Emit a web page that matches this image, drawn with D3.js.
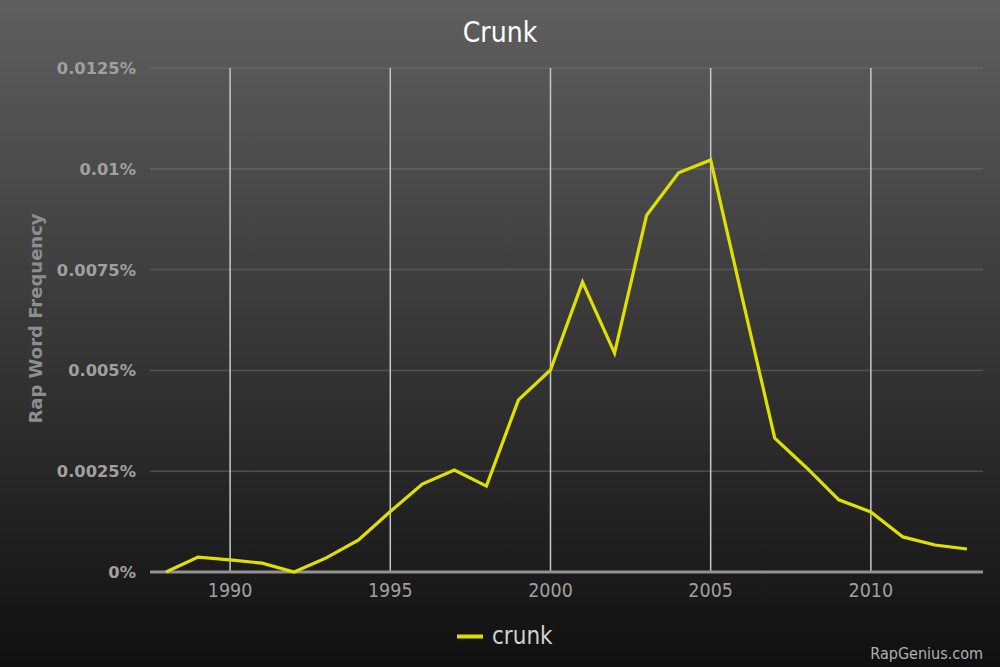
<!DOCTYPE html>
<html>
<head>
<meta charset="utf-8">
<script src="https://cdn.jsdelivr.net/npm/d3@7"></script>
<style>
html,body{margin:0;padding:0;background:#111;}
svg{display:block;}
</style>
</head>
<body>
<svg id="chart" width="1000" height="667"></svg>
<script>
const title = "Crunk";
const seriesName = "crunk";
const years = [1988,1989,1990,1991,1992,1993,1994,1995,1996,1997,1998,1999,2000,2001,2002,2003,2004,2005,2006,2007,2008,2009,2010,2011,2012,2013];
const values = [0,0.00037,0.0003,0.00022,0,0.00035,0.00079,0.0015,0.00218,0.00253,0.00213,0.00427,0.00501,0.00719,0.00543,0.00885,0.0099,0.01022,0.00675,0.00332,0.00258,0.00179,0.00149,0.00087,0.00067,0.00057];
const yTicks = [0,0.0025,0.005,0.0075,0.01,0.0125];
const yTickLabels = ["0%","0.0025%","0.005%","0.0075%","0.01%","0.0125%"];
const xTicks = [1990,1995,2000,2005,2010];
const yAxisTitle = "Rap Word Frequency";
const credit = "RapGenius.com";

const W = 1000, H = 667;
const svg = d3.select("#chart");
const defs = svg.append("defs");
const grad = defs.append("linearGradient").attr("id","bg").attr("x1",0).attr("y1",0).attr("x2",0).attr("y2",1);
grad.append("stop").attr("offset","0%").attr("stop-color","#5f5f5f");
grad.append("stop").attr("offset","100%").attr("stop-color","#101010");
svg.append("rect").attr("width",W).attr("height",H).attr("fill","url(#bg)");

const x = d3.scaleLinear().domain([1987.5, 2013.5]).range([150, 983]);
const y = d3.scaleLinear().domain([0, 0.0125]).range([572, 68]);

const condensed = "'DejaVu Sans Condensed','DejaVu Sans',sans-serif";

// horizontal grid
svg.append("g").selectAll("line").data(yTicks.slice(1)).join("line")
  .attr("x1",150).attr("x2",983)
  .attr("y1",d=>y(d)).attr("y2",d=>y(d))
  .attr("stroke","#7a7a7a").attr("stroke-opacity",0.45).attr("stroke-width",1.5);

// vertical grid
svg.append("g").selectAll("line").data(xTicks).join("line")
  .attr("x1",d=>x(d)).attr("x2",d=>x(d))
  .attr("y1",y(0.0125)).attr("y2",y(0))
  .attr("stroke","#c8c8c8").attr("stroke-width",1.5);

// y labels
svg.append("g").selectAll("text").data(yTicks).join("text")
  .attr("x",136).attr("y",d=>y(d)+6)
  .attr("text-anchor","end")
  .attr("font-family","'DejaVu Sans',sans-serif").attr("font-weight","bold")
  .attr("font-size",16.3).attr("fill","#a0a0a0")
  .text((d,i)=>yTickLabels[i]);

// y axis title
svg.append("text")
  .attr("transform",`translate(42,${(213+424)/2}) rotate(-90)`)
  .attr("text-anchor","middle")
  .attr("font-family","'DejaVu Sans',sans-serif").attr("font-weight","bold")
  .attr("font-size",18).attr("fill","#8e8e8e")
  .text(yAxisTitle);

// x labels
svg.append("g").selectAll("text").data(xTicks).join("text")
  .attr("x",d=>x(d)).attr("y",597)
  .attr("text-anchor","middle")
  .attr("font-family",condensed)
  .attr("font-size",19.5).attr("fill","#a0a0a0")
  .text(d=>d);

// x axis line
svg.append("line").attr("x1",150).attr("x2",983).attr("y1",y(0)).attr("y2",y(0))
  .attr("stroke","#929292").attr("stroke-width",3);

// data line
const line = d3.line().x((d,i)=>x(years[i])).y(d=>y(d));
svg.append("path").datum(values)
  .attr("d",line).attr("fill","none")
  .attr("stroke","#dfe000").attr("stroke-width",3.2)
  .attr("stroke-linejoin","miter");

// title
svg.append("text").attr("x",500).attr("y",42).attr("text-anchor","middle")
  .attr("font-family",condensed).attr("font-size",28).attr("fill","#ffffff")
  .text(title);

// legend
svg.append("line").attr("x1",457).attr("x2",483).attr("y1",636.5).attr("y2",636.5)
  .attr("stroke","#dfe000").attr("stroke-width",4);
svg.append("text").attr("x",492).attr("y",644)
  .attr("font-family",condensed).attr("font-size",24).attr("fill","#d0d0d0")
  .text(seriesName);

// credit
svg.append("text").attr("x",983).attr("y",659).attr("text-anchor","end")
  .attr("font-family",condensed).attr("font-size",16).attr("fill","#b0b0b0")
  .text(credit);
</script>
</body>
</html>
